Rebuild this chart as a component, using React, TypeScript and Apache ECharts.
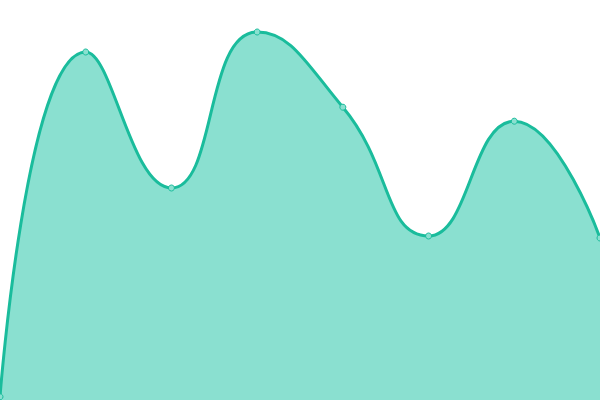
import { useEffect, useRef } from "react";
import * as echarts from "echarts";

const categories = ["A", "B", "C", "D", "E", "F", "G", "H"];
const values = [0.8, 87, 53, 92, 73.2, 41, 69.7, 40.5];

export default function App() {
  const containerRef = useRef<HTMLDivElement>(null);

  useEffect(() => {
    document.body.style.margin = "0";
    if (!containerRef.current) return;
    const chart = echarts.init(containerRef.current, null, { renderer: "svg" });
    chart.setOption({
      animation: false,
      grid: { top: 0, bottom: 0, left: 0, right: 0 },
      xAxis: {
        type: "category",
        data: categories,
        boundaryGap: false,
        show: false,
      },
      yAxis: { type: "value", min: 0, max: 100, show: false },
      series: [
        {
          type: "line",
          data: values,
          smooth: 0.5,
          symbol: "circle",
          symbolSize: 6,
          lineStyle: { color: "#1abc9c", width: 3 },
          itemStyle: { color: "#8ae0d0", borderColor: "#1abc9c", borderWidth: 1 },
          areaStyle: { color: "#8ae0d0", opacity: 1 },
        },
      ],
    });
    return () => chart.dispose();
  }, []);

  return <div ref={containerRef} style={{ width: 600, height: 400 }} />;
}
